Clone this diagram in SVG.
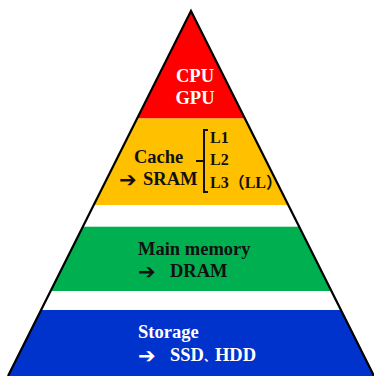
<svg xmlns="http://www.w3.org/2000/svg" width="374" height="376" viewBox="0 0 374 376">
<style>
.t{font-family:"Liberation Serif","Times New Roman","Noto Sans CJK SC",serif;font-weight:bold;font-size:18.5px}
.w{fill:#ffffff}
.k{fill:#111111}
.s{font-size:16px}
.ar{font-family:"DejaVu Sans",sans-serif;font-weight:bold;font-size:21px}
.br{fill:none;stroke:#111111;stroke-width:2}
</style>
<defs>
<clipPath id="tri"><polygon points="191,11 8,376 374,376"/></clipPath>
</defs>
<rect width="374" height="376" fill="#ffffff"/>
<g clip-path="url(#tri)">
<g id="cpu-layer"><rect x="0" y="0" width="374" height="118.5" fill="#ff0000"/></g>
<g id="cache-layer"><rect x="0" y="118.5" width="374" height="86.5" fill="#ffc000"/></g>
<g id="memory-layer"><rect x="0" y="226.7" width="374" height="64.3" fill="#00b050"/></g>
<g id="storage-layer"><rect x="0" y="310" width="374" height="66" fill="#0033cc"/></g>
</g>
<polyline points="8,376 191,11 374,376" fill="none" stroke="#000000" stroke-width="2.2" stroke-linejoin="miter"/>
<g id="cpu-text">
<text class="t w" x="195" y="82" text-anchor="middle">CPU</text>
<text class="t w" x="195" y="103.5" text-anchor="middle">GPU</text>
</g>
<g id="cache-text">
<text class="t k" x="134" y="163">Cache</text>
<text class="ar k" x="119" y="187">➔</text>
<text class="t k" x="143" y="185">SRAM</text>
<path class="br" d="M208,130 H204 V192 H208 M196,161 H204"/>
<text class="t k s" x="210" y="143">L1</text>
<text class="t k s" x="210" y="165">L2</text>
<text class="t k s" x="210" y="188">L3（LL）</text>
</g>
<g id="memory-text">
<text class="t k" x="138" y="255">Main memory</text>
<text class="ar k" x="138" y="279">➔</text>
<text class="t k" x="170" y="277">DRAM</text>
</g>
<g id="storage-text">
<text class="t w" x="138" y="338">Storage</text>
<text class="ar w" x="138" y="363">➔</text>
<text class="t w" x="170" y="361">SSD<tspan style="font-size:11px">、</tspan>HDD</text>
</g>
</svg>
